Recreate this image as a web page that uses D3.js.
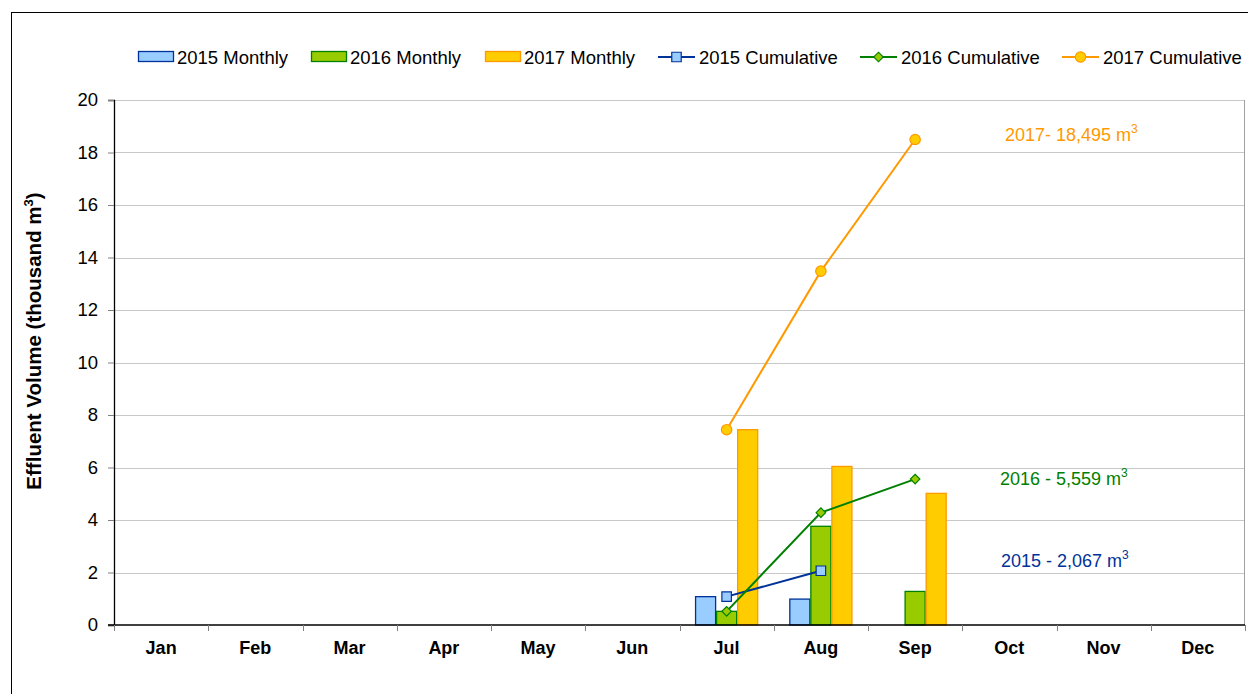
<!DOCTYPE html>
<html>
<head>
<meta charset="utf-8">
<script src="https://cdn.jsdelivr.net/npm/d3@7"></script>
<style>
  html, body { margin: 0; padding: 0; background: #fff; }
  svg { display: block; font-family: "Liberation Sans", Arial, sans-serif; }
</style>
</head>
<body>
<svg id="chart" width="1248" height="694"></svg>
<script>
// Monthly effluent volume (thousand m³) and running totals, by year
const months = ["Jan","Feb","Mar","Apr","May","Jun","Jul","Aug","Sep","Oct","Nov","Dec"];
const yTicks = [0, 2, 4, 6, 8, 10, 12, 14, 16, 18, 20];

const monthly2015 = [null, null, null, null, null, null, 1.080, 0.987, null, null, null, null];
const monthly2016 = [null, null, null, null, null, null, 0.520, 3.760, 1.279, null, null, null];
const monthly2017 = [null, null, null, null, null, null, 7.440, 6.040, 5.015, null, null, null];

const cumulative2015 = [null, null, null, null, null, null, 1.080, 2.067, null, null, null, null];
const cumulative2016 = [null, null, null, null, null, null, 0.520, 4.280, 5.559, null, null, null];
const cumulative2017 = [null, null, null, null, null, null, 7.440, 13.480, 18.495, null, null, null];

const years = ["2015", "2016", "2017"];
const totalLabels = ["2015 - 2,067 m", "2016 - 5,559 m", "2017- 18,495 m"];

const palette = {
  "2015": { fill: "#99CCFF", stroke: "#003399" },
  "2016": { fill: "#99CC00", stroke: "#008000" },
  "2017": { fill: "#FFCC00", stroke: "#FF9900" }
};

const svg = d3.select("#chart");
const W = 1248, H = 694;
const m = { left: 114, right: 3, top: 100, bottom: 69 };
const plotW = W - m.left - m.right;
const plotH = H - m.top - m.bottom;

// outer frame
svg.append("rect").attr("x", 11.5).attr("y", 12.5)
  .attr("width", W + 10).attr("height", H + 10)
  .attr("fill", "none").attr("stroke", "#000").attr("stroke-width", 1);

const g = svg.append("g").attr("transform", `translate(${m.left},${m.top})`);

const x = d3.scaleBand().domain(months).range([0, plotW]).paddingInner(0).paddingOuter(0);
const xInner = d3.scaleBand().domain(years).range([0, x.bandwidth()]).paddingInner(0).paddingOuter(0.74);
const y = d3.scaleLinear().domain([0, 20]).range([plotH, 0]);

// gridlines
g.append("g").selectAll("line").data(yTicks.filter(t => t > 0)).join("line")
  .attr("x1", 0).attr("x2", plotW)
  .attr("y1", d => Math.round(y(d)) + 0.5).attr("y2", d => Math.round(y(d)) + 0.5)
  .attr("stroke", "#c8c8c8").attr("stroke-width", 1);

// plot area right border
g.append("line").attr("x1", plotW - 0.5).attr("x2", plotW - 0.5).attr("y1", 0).attr("y2", plotH)
  .attr("stroke", "#a0a0a0");

// bars
const monthlyByYear = { "2015": monthly2015, "2016": monthly2016, "2017": monthly2017 };
years.forEach(yr => {
  const data = months.map((mo, i) => ({ mo, v: monthlyByYear[yr][i] })).filter(d => d.v != null);
  g.append("g").selectAll("rect").data(data).join("rect")
    .attr("x", d => x(d.mo) + xInner(yr) + 0.5)
    .attr("width", xInner.bandwidth() - 1)
    .attr("y", d => y(d.v))
    .attr("height", d => y(0) - y(d.v))
    .attr("fill", palette[yr].fill)
    .attr("stroke", palette[yr].stroke)
    .attr("stroke-width", 1.3);
});

// cumulative lines
const cumByYear = { "2015": cumulative2015, "2016": cumulative2016, "2017": cumulative2017 };
const cx = mo => x(mo) + x.bandwidth() / 2;
const line = d3.line().x(d => cx(d.mo)).y(d => y(d.v));
const symbols = { "2015": d3.symbolSquare, "2016": d3.symbolSquare, "2017": d3.symbolCircle };
const symSize = { "2015": 90, "2016": 45, "2017": 85 };
const symRot = { "2015": 0, "2016": 45, "2017": 0 };

years.forEach(yr => {
  const data = months.map((mo, i) => ({ mo, v: cumByYear[yr][i] })).filter(d => d.v != null);
  g.append("path").datum(data).attr("d", line)
    .attr("fill", "none").attr("stroke", palette[yr].stroke).attr("stroke-width", 2);
  g.append("g").selectAll("path").data(data).join("path")
    .attr("transform", d => `translate(${cx(d.mo)},${y(d.v)}) rotate(${symRot[yr]})`)
    .attr("d", d3.symbol().type(symbols[yr]).size(symSize[yr]))
    .attr("fill", palette[yr].fill)
    .attr("stroke", palette[yr].stroke)
    .attr("stroke-width", 1.2);
});

// y axis
const yAxis = g.append("g").call(d3.axisLeft(y).tickValues(yTicks).tickSize(6).tickPadding(10));
yAxis.select(".domain").attr("stroke", "#000").attr("stroke-width", 1.3);
yAxis.selectAll(".tick line").attr("stroke", "#808080");
yAxis.selectAll(".tick text").attr("font-size", 18.5).attr("fill", "#000")
  .attr("font-family", "Liberation Sans, Arial, sans-serif");

// x axis with ticks on category boundaries
const xAxisG = g.append("g").attr("transform", `translate(0,${plotH})`);
xAxisG.append("line").attr("x1", -6).attr("x2", plotW).attr("y1", 0).attr("y2", 0)
  .attr("stroke", "#000").attr("stroke-width", 1.5);
xAxisG.selectAll("line.tk").data(months.map(mo => x(mo)).concat([plotW])).join("line")
  .attr("class", "tk")
  .attr("x1", d => Math.round(d) + 0.5).attr("x2", d => Math.round(d) + 0.5)
  .attr("y1", 0).attr("y2", 6).attr("stroke", "#808080");
xAxisG.selectAll("text").data(months).join("text")
  .attr("x", d => cx(d)).attr("y", 29)
  .attr("text-anchor", "middle").attr("font-size", 18).attr("font-weight", "bold")
  .attr("fill", "#000").text(d => d);

// y axis title
const yTitle = svg.append("text")
  .attr("transform", `translate(41,341) rotate(-90)`)
  .attr("text-anchor", "middle").attr("font-size", 20.5).attr("font-weight", "bold").attr("fill", "#000");
yTitle.append("tspan").text("Effluent Volume (thousand m");
yTitle.append("tspan").attr("font-size", 13).attr("dy", -8).text("3");
yTitle.append("tspan").attr("dy", 8).text(")");

// year totals next to the cumulative lines
const totalPos = [
  { yr: "2015", xv: 1001, yv: 2.067, dy: -4 },
  { yr: "2016", xv: 1000, yv: 5.559, dy: 6 },
  { yr: "2017", xv: 1005, yv: 18.495, dy: 1 }
];
totalPos.forEach((p, i) => {
  const t = svg.append("text")
    .attr("x", p.xv)
    .attr("y", m.top + y(p.yv) + p.dy)
    .attr("font-size", 18).attr("fill", palette[p.yr].stroke);
  t.append("tspan").text(totalLabels[i]);
  t.append("tspan").attr("font-size", 12).attr("dy", -8).text("3");
});

// legend
const legendItems = [
  { label: "2015 Monthly", yr: "2015", kind: "bar", x: 138 },
  { label: "2016 Monthly", yr: "2016", kind: "bar", x: 311 },
  { label: "2017 Monthly", yr: "2017", kind: "bar", x: 485 },
  { label: "2015 Cumulative", yr: "2015", kind: "line", x: 658 },
  { label: "2016 Cumulative", yr: "2016", kind: "line", x: 860 },
  { label: "2017 Cumulative", yr: "2017", kind: "line", x: 1062 }
];
const lg = svg.append("g");
const ly = 57;
legendItems.forEach(it => {
  const c = palette[it.yr];
  if (it.kind === "bar") {
    lg.append("rect").attr("x", it.x + 0.5).attr("y", ly - 5.5).attr("width", 35).attr("height", 10)
      .attr("fill", c.fill).attr("stroke", c.stroke).attr("stroke-width", 1.3);
  } else {
    lg.append("line").attr("x1", it.x).attr("x2", it.x + 37).attr("y1", ly).attr("y2", ly)
      .attr("stroke", c.stroke).attr("stroke-width", 2);
    lg.append("path").attr("transform", `translate(${it.x + 18.5},${ly}) rotate(${symRot[it.yr]})`)
      .attr("d", d3.symbol().type(symbols[it.yr]).size(symSize[it.yr]))
      .attr("fill", c.fill).attr("stroke", c.stroke).attr("stroke-width", 1.2);
  }
  lg.append("text").attr("x", it.x + (it.kind === "bar" ? 39 : 41)).attr("y", ly + 6.5)
    .attr("font-size", 18.5).attr("fill", "#000").text(it.label);
});
</script>
</body>
</html>
